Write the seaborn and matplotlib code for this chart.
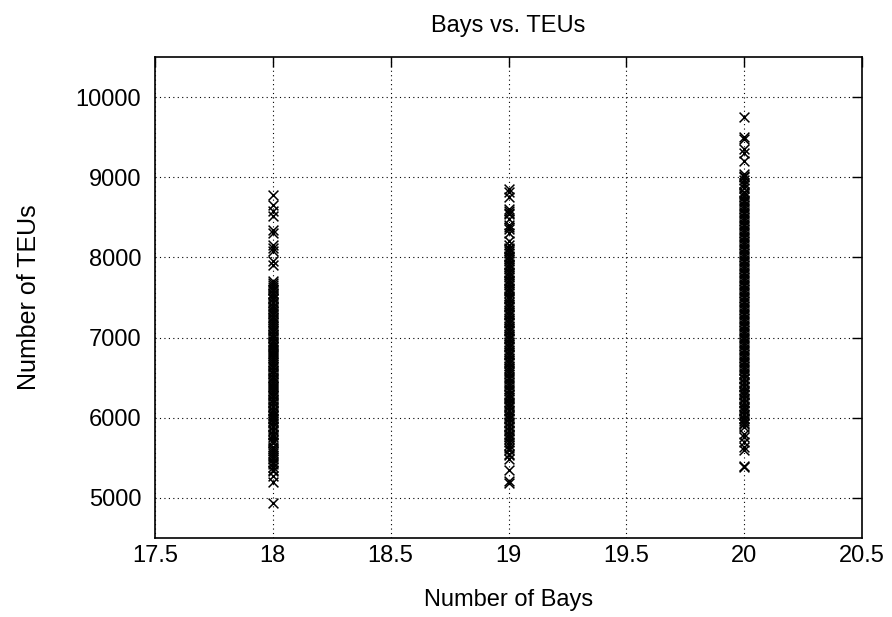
import matplotlib
matplotlib.use("Agg")
import matplotlib.pyplot as plt
import seaborn as sns
import pandas as pd

bays_18 = [4940, 5200, 5270, 5330, 5350, 5380, 5420, 5450, 5480, 5510, 5530, 5560, 5580, 5610,
           5640, 5680, 5700, 5720, 5760, 5790, 5800, 5830, 5850, 5880, 5900, 5930, 5960, 5980,
           6000, 6020, 6040, 6060, 6080, 6100, 6130, 6150, 6180, 6200, 6220, 6240, 6270, 6280,
           6310, 6330, 6360, 6380, 6400, 6420, 6450, 6470, 6490, 6510, 6540, 6560, 6580, 6600,
           6630, 6650, 6670, 6700, 6720, 6740, 6770, 6790, 6810, 6830, 6860, 6880, 6900, 6920,
           6940, 6960, 6990, 7010, 7030, 7050, 7080, 7100, 7120, 7150, 7170, 7190, 7220, 7240,
           7260, 7290, 7310, 7330, 7360, 7380, 7400, 7430, 7450, 7480, 7500, 7520, 7540, 7560,
           7590, 7610, 7630, 7650, 7680, 7700, 7900, 7950, 8080, 8120, 8150, 8300, 8340, 8520,
           8580, 8650, 8780]
bays_19 = [5190, 5210, 5350, 5480, 5530, 5550, 5600, 5620, 5660, 5700, 5730, 5760, 5780, 5800,
           5830, 5850, 5880, 5900, 5930, 5950, 5980, 6000, 6020, 6050, 6080, 6100, 6130, 6150,
           6170, 6200, 6230, 6260, 6280, 6300, 6330, 6360, 6390, 6420, 6450, 6480, 6510, 6540,
           6570, 6600, 6620, 6650, 6680, 6700, 6720, 6750, 6780, 6800, 6820, 6850, 6880, 6900,
           6920, 6950, 6980, 7000, 7020, 7050, 7080, 7100, 7120, 7150, 7180, 7200, 7220, 7250,
           7280, 7300, 7320, 7350, 7380, 7400, 7420, 7450, 7480, 7500, 7520, 7550, 7580, 7600,
           7620, 7650, 7680, 7700, 7720, 7750, 7780, 7800, 7820, 7850, 7880, 7900, 7920, 7950,
           7980, 8000, 8020, 8050, 8080, 8100, 8120, 8150, 8200, 8300, 8350, 8380, 8400, 8480,
           8540, 8560, 8580, 8600, 8750, 8820, 8850]
bays_20 = [5380, 5400, 5600, 5640, 5700, 5760, 5800, 5880, 5920, 5940, 5960, 5980, 6000, 6030,
           6050, 6080, 6100, 6120, 6150, 6180, 6200, 6230, 6250, 6280, 6300, 6320, 6350, 6380,
           6400, 6430, 6450, 6480, 6500, 6530, 6560, 6590, 6620, 6650, 6680, 6710, 6740, 6770,
           6800, 6830, 6860, 6890, 6920, 6950, 6980, 7010, 7040, 7070, 7100, 7130, 7160, 7190,
           7220, 7250, 7280, 7310, 7340, 7370, 7400, 7430, 7460, 7490, 7520, 7550, 7580, 7610,
           7640, 7670, 7700, 7730, 7760, 7790, 7820, 7850, 7880, 7910, 7940, 7970, 8000, 8030,
           8060, 8090, 8120, 8150, 8180, 8210, 8240, 8270, 8300, 8330, 8360, 8390, 8420, 8450,
           8480, 8510, 8540, 8570, 8600, 8630, 8660, 8690, 8720, 8750, 8780, 8800, 8820, 8860,
           8900, 8930, 8960, 9000, 9020, 9040, 9200, 9300, 9350, 9480, 9500, 9750]

bays = [18] * len(bays_18) + [19] * len(bays_19) + [20] * len(bays_20)
teus = bays_18 + bays_19 + bays_20
df = pd.DataFrame({"bays": bays, "teus": teus})

sns.set_style("white")
plt.rcParams['font.family'] = ['Liberation Sans', 'DejaVu Sans']
plt.rcParams['text.color'] = 'black'
plt.rcParams['axes.labelcolor'] = 'black'

fig = plt.figure(figsize=(8.92, 6.17), dpi=100)
ax = fig.add_axes([155/892, 79/617, 707/892, 481/617])

sns.scatterplot(data=df, x="bays", y="teus", marker="x", color="black", s=50,
                linewidth=1.1, ax=ax, legend=False, zorder=3)

ax.set_xlim(17.5, 20.5)
ax.set_ylim(4500, 10500)
ax.set_xticks([17.5, 18, 18.5, 19, 19.5, 20, 20.5])
ax.set_xticklabels(["17.5", "18", "18.5", "19", "19.5", "20", "20.5"])
ax.set_yticks([5000, 6000, 7000, 8000, 9000, 10000])
ax.grid(True, linestyle=(0, (1, 3)), color="black", linewidth=0.8)
ax.tick_params(direction="in", length=7, width=1, top=True, right=True,
               labelsize=17, colors="black")
ax.tick_params(axis="x", pad=5)
ax.tick_params(axis="y", pad=10)
for sp in ax.spines.values():
    sp.set_color("black")
    sp.set_linewidth(1.2)

ax.set_xlabel("Number of Bays", fontsize=17, labelpad=16)
ax.set_ylabel("Number of TEUs", fontsize=18, labelpad=25)
ax.set_title("Bays vs. TEUs", fontsize=17, pad=18)

fig.savefig("out.png", dpi=100)
